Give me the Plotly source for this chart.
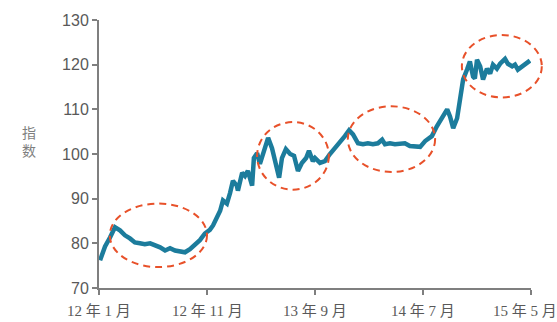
import plotly.graph_objects as go

dates = [
    "2012-01-04", "2012-01-18", "2012-02-01", "2012-02-15", "2012-02-29", "2012-03-14",
    "2012-03-28", "2012-04-11", "2012-04-25", "2012-05-09", "2012-05-24", "2012-06-07",
    "2012-06-21", "2012-07-05", "2012-07-19", "2012-08-02", "2012-08-16", "2012-08-30",
    "2012-09-13", "2012-09-27", "2012-10-11", "2012-10-25", "2012-11-08", "2012-11-17",
    "2012-11-28", "2012-12-07", "2012-12-15", "2012-12-26", "2013-01-04", "2013-01-12",
    "2013-01-23", "2013-01-26", "2013-02-07", "2013-02-15", "2013-02-23", "2013-03-07",
    "2013-03-12", "2013-03-21", "2013-03-29", "2013-04-12", "2013-04-21",
    "2013-05-02", "2013-05-10", "2013-05-22", "2013-05-30",
    "2013-06-10", "2013-06-22", "2013-07-03", "2013-07-14", "2013-07-25", "2013-08-06",
    "2013-08-14", "2013-08-25", "2013-08-31", "2013-09-14", "2013-09-28", "2013-10-12",
    "2013-10-26", "2013-11-09", "2013-11-23", "2013-12-05", "2013-12-16", "2013-12-30",
    "2014-01-13", "2014-01-27", "2014-02-10", "2014-02-24", "2014-03-08", "2014-03-16",
    "2014-03-30", "2014-04-13", "2014-04-27", "2014-05-11", "2014-05-25", "2014-06-09",
    "2014-06-23", "2014-07-07", "2014-07-26", "2014-08-09", "2014-08-24", "2014-09-07",
    "2014-09-15", "2014-09-24", "2014-10-05", "2014-10-13", "2014-10-22", "2014-11-02",
    "2014-11-10", "2014-11-19", "2014-11-24", "2014-11-30", "2014-12-09", "2014-12-17",
    "2014-12-28", "2015-01-06", "2015-01-14",
    "2015-01-25", "2015-02-03", "2015-02-17", "2015-02-25", "2015-03-09", "2015-03-17",
    "2015-03-25", "2015-04-06", "2015-04-17", "2015-04-28",
]
index_values = [
    76.2, 79.3, 81.3, 83.6, 82.9, 81.8,
    81.1, 80.2, 80.0, 79.8, 80.0, 79.6,
    79.1, 78.4, 78.9, 78.4, 78.2, 78.0,
    78.7, 79.6, 80.7, 82.2, 83.0, 84.0,
    85.6, 87.3, 89.6, 88.9, 91.3, 94.0,
    92.9, 91.8, 95.8, 95.1, 96.2, 92.9,
    99.1, 100.2, 97.8, 101.8, 103.6,
    101.3, 98.4, 94.7, 99.1,
    101.1, 100.0, 99.6, 96.2, 98.0, 99.1,
    100.7, 98.4, 99.1, 98.0, 98.4, 100.0,
    101.3, 102.4, 104.0, 105.3, 104.4, 102.4,
    102.2, 102.4, 102.2, 102.4, 103.2, 102.2,
    102.4, 102.2, 102.2, 102.4, 101.8, 101.8,
    101.6, 102.9, 104.0, 106.2, 108.0, 110.0,
    108.4, 105.8, 108.0, 112.9, 116.7, 118.9,
    120.7, 117.3, 116.9, 121.1, 119.6, 116.7,
    119.1, 118.0, 120.0,
    119.1, 120.2, 121.3, 120.2, 119.6, 120.0,
    118.9, 119.6, 120.0, 120.9,
]

tick_dates = ["2012-01-01", "2012-11-01", "2013-09-01", "2014-07-01", "2015-05-01"]
tick_labels = ["12 年 1 月", "12 年 11 月", "13 年 9 月", "14 年 7 月", "15 年 5 月"]
y_ticks = [70, 80, 90, 100, 110, 120, 130]

axis_color = "#7f7f7f"
text_color = "#595959"
line_color = "#1C7C9C"
ellipse_color = "#E8512A"

fig = go.Figure()
fig.add_trace(go.Scatter(
    x=dates, y=index_values, mode="lines",
    line=dict(color=line_color, width=4.5),
    showlegend=False, hoverinfo="skip",
))

# highlighted consolidation ranges (paper coordinates)
ellipses = [
    (0.025, 0.078, 0.250, 0.315),
    (0.366, 0.367, 0.532, 0.619),
    (0.576, 0.433, 0.778, 0.678),
    (0.840, 0.711, 1.025, 0.944),
]
for x0, y0, x1, y1 in ellipses:
    fig.add_shape(type="circle", xref="paper", yref="paper",
                  x0=x0, y0=y0, x1=x1, y1=y1,
                  line=dict(color=ellipse_color, width=2, dash="7px,5px"))

# x tick labels as annotations (last one shifted to stay inside the frame)
for i, (d, t) in enumerate(zip(tick_dates, tick_labels)):
    fig.add_annotation(x=d, xref="x", y=0, yref="paper", text=t,
                       showarrow=False, yanchor="middle", yshift=-23,
                       xshift=-6 if i == len(tick_dates) - 1 else 0,
                       font=dict(family="Liberation Serif, Noto Sans CJK SC",
                                 size=15, color=text_color))

fig.add_annotation(x=-0.183, xref="paper", y=0.548, yref="paper",
                   text="指<br>数", showarrow=False,
                   font=dict(family="Noto Sans CJK SC", size=14, color=axis_color))

fig.update_xaxes(
    type="date", range=["2012-01-01", "2015-05-01"],
    tickvals=tick_dates, ticktext=["" for _ in tick_dates],
    ticks="outside", ticklen=5, tickcolor=axis_color, tickwidth=1.5,
    showline=True, linecolor=axis_color, linewidth=2,
    showgrid=False, zeroline=False,
)
fig.update_yaxes(
    range=[70, 130], tickvals=y_ticks,
    ticks="outside", ticklen=5, tickcolor=axis_color, tickwidth=1.5,
    showline=True, linecolor=axis_color, linewidth=2,
    showgrid=False, zeroline=False,
    tickfont=dict(family="Liberation Sans, Arial", size=16, color=text_color),
)
fig.update_layout(
    width=557, height=322,
    margin=dict(l=99, r=26, t=18, b=34),
    paper_bgcolor="white", plot_bgcolor="white",
)
fig.write_html("out.html")
